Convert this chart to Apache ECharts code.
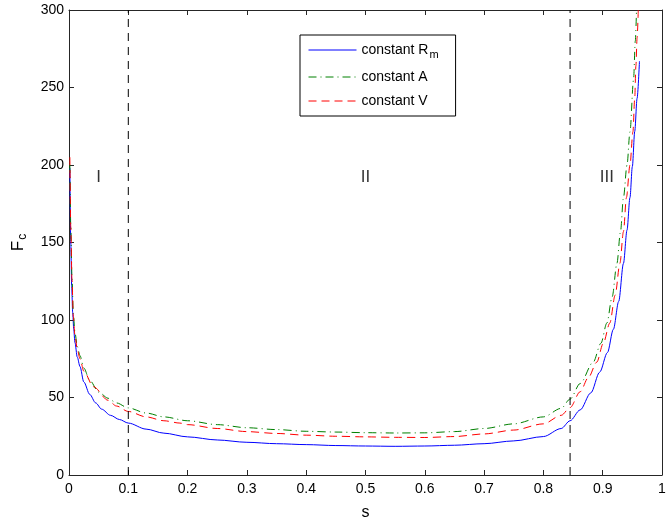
<!DOCTYPE html>
<html>
<head>
<meta charset="utf-8">
<script src="https://cdn.jsdelivr.net/npm/echarts@6/dist/echarts.min.js"></script>
<style>
html,body{margin:0;padding:0;background:#fff;}
#chart{width:669px;height:526px;}
</style>
</head>
<body>
<div id="chart"></div>
<script>
// ---- data ----
var seriesNames = ['constant R_m', 'constant A', 'constant V'];

var sBlue = [0.0015,0.003,0.0045,0.0062,0.008,0.01,0.014,0.0185,0.025,0.035,0.045,0.055,0.07,0.085,0.1,0.13,0.16,0.2,0.25,0.3,0.35,0.4,0.45,0.5,0.55,0.6,0.65,0.7,0.75,0.8,0.83,0.845,0.862,0.88,0.895,0.908,0.918,0.927,0.935,0.941,0.946,0.95,0.954,0.958,0.962];
var fBlue = [198,150,122,105,94,85.5,76,70,60,52,46.5,42.5,38.5,35.8,33.5,29.6,27,24.6,22.6,21.1,20.2,19.6,19,18.7,18.5,18.7,19.2,20.2,22,24.8,30,35,42,53,66.4,79,94,112,136.5,158,179,199,221.6,243,267];

var sGreen = [0.0015,0.003,0.005,0.0073,0.01,0.014,0.0185,0.025,0.035,0.05,0.066,0.08,0.1,0.13,0.16,0.2,0.25,0.3,0.35,0.4,0.45,0.5,0.55,0.6,0.65,0.7,0.75,0.8,0.83,0.845,0.862,0.884,0.897,0.907,0.916,0.924,0.93,0.935,0.941,0.946,0.952,0.955,0.957];
var fGreen = [200,160,128,104,92,83,77,69,61,53.5,49.5,46.5,43.3,40,37.5,35,32.5,30.5,29.3,28.2,27.7,27.3,27.1,27.2,28,30,33,37.5,43,49,59,72.8,85,98,115,136.5,157,179,200,221.5,255,280,300];

var sRed = [0.0015,0.003,0.005,0.0073,0.01,0.014,0.0185,0.025,0.041,0.066,0.08,0.1,0.13,0.16,0.187,0.2,0.25,0.3,0.35,0.4,0.45,0.5,0.55,0.6,0.65,0.7,0.75,0.8,0.83,0.845,0.862,0.876,0.89,0.901,0.912,0.921,0.929,0.935,0.94,0.946,0.951,0.954,0.956,0.958,0.96];
var fRed = [205,160,126,102,90,81,75,67,57,48.2,44.5,41,37.5,35,33.5,32.5,30,28,26.8,25.7,25,24.6,24.3,24.2,24.8,26.5,29,33,38.5,43.5,53.7,63,72.8,85,98,116,136.5,157,179,200,221.5,243,264,282,300];

var boundaries = [0.1, 0.845];
var regionNames = ['I', 'II', 'III'];
var regionS = [0.05, 0.5, 0.907];
var regionF = [192, 192, 192];

var xTicks = ['0','0.1','0.2','0.3','0.4','0.5','0.6','0.7','0.8','0.9','1'];

// ---- build ----
function zip(a, b) { return a.map(function (v, i) { return [v, b[i]]; }); }

var font = 'Liberation Sans, Arial, Helvetica, sans-serif';
var axisCol = '#262626';

function xAx(pos, labels) {
  return {
    type: 'value', position: pos, min: 0, max: 1, interval: 0.1,
    axisLine: { show: true, onZero: false, lineStyle: { color: axisCol, width: 1 } },
    axisTick: { show: true, inside: true, length: 5, lineStyle: { color: axisCol } },
    axisLabel: { show: labels, margin: 7, color: '#000', fontSize: 14, fontFamily: font,
      formatter: function (v) { return xTicks[Math.round(v * 10)]; } },
    splitLine: { show: false },
    name: labels ? 's' : '', nameLocation: 'middle', nameGap: 30,
    nameTextStyle: { color: '#000', fontSize: 16, fontFamily: font }
  };
}
function yAx(pos, labels) {
  return {
    type: 'value', position: pos, min: 0, max: 300, interval: 50,
    axisLine: { show: true, onZero: false, lineStyle: { color: axisCol, width: 1 } },
    axisTick: { show: true, inside: true, length: 5, lineStyle: { color: axisCol } },
    axisLabel: { show: labels, margin: 5, color: '#000', fontSize: 14, fontFamily: font },
    splitLine: { show: false },
    name: labels ? '{a|F}{b|c}' : '', nameLocation: 'middle', nameGap: 40, nameRotate: 90,
    nameTextStyle: { color: '#000', fontFamily: font,
      rich: { a: { fontSize: 17, fontFamily: font, color: '#000' },
              b: { fontSize: 12, fontFamily: font, color: '#000', padding: [10, 0, 0, 1] } } }
  };
}

var series = [
  { name: seriesNames[0], type: 'line', data: zip(sBlue, fBlue), showSymbol: false, symbol: 'none',
    smooth: 0.3, smoothMonotone: 'x', lineStyle: { color: '#0000ff', width: 1 }, itemStyle: { color: '#0000ff' } },
  { name: seriesNames[1], type: 'line', data: zip(sGreen, fGreen), showSymbol: false, symbol: 'none',
    smooth: 0.3, smoothMonotone: 'x', lineStyle: { color: '#008000', width: 1, type: [8, 4, 1, 4] }, itemStyle: { color: '#008000' } },
  { name: seriesNames[2], type: 'line', data: zip(sRed, fRed), showSymbol: false, symbol: 'none',
    smooth: 0.3, smoothMonotone: 'x', lineStyle: { color: '#ff0000', width: 1, type: [8, 5] }, itemStyle: { color: '#ff0000' } }
];

boundaries.forEach(function (b) {
  series.push({ type: 'line', data: [[b, 0], [b, 300]], showSymbol: false, symbol: 'none', silent: true,
    lineStyle: { color: '#000', width: 1, type: [8, 6] } });
});

series.push({
  type: 'scatter', symbolSize: 0, silent: true,
  data: regionNames.map(function (n, i) { return { value: [regionS[i], regionF[i]], name: n }; }),
  label: { show: true, position: 'inside', formatter: '{b}', color: '#000', fontSize: 17, fontFamily: font }
});

var chart = echarts.init(document.getElementById('chart'), null, { renderer: 'canvas' });
chart.setOption({
  animation: false,
  backgroundColor: '#fff',
  grid: { left: 69, right: 7, top: 10, bottom: 45, containLabel: false },
  xAxis: [xAx('bottom', true), xAx('top', false)],
  yAxis: [yAx('left', true), yAx('right', false)],
  legend: {
    data: seriesNames, orient: 'vertical', left: 300, top: 35,
    backgroundColor: '#fff', borderColor: '#000', borderWidth: 1, borderRadius: 0,
    padding: [8, 17, 8, 8], itemGap: 10, itemWidth: 48, itemHeight: 14,
    itemStyle: { opacity: 0 },
    lineStyle: { width: 1 },
    textStyle: { fontSize: 14, fontFamily: font, color: '#000',
      rich: { n: { fontSize: 14, fontFamily: font, color: '#000' },
              s: { fontSize: 11, fontFamily: font, color: '#000', padding: [9, 0, 0, 1] } } },
    formatter: function (name) {
      if (name === 'constant R_m') return '{n|constant R}{s|m}';
      return '{n|' + name + '}';
    }
  },
  series: series
});
</script>
</body>
</html>
